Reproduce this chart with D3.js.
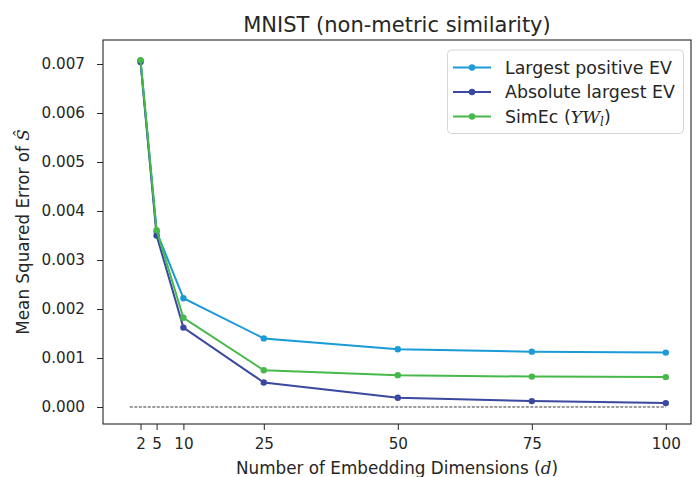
<!DOCTYPE html>
<html>
<head>
<meta charset="utf-8">
<script src="https://cdn.jsdelivr.net/npm/d3@7"></script>
<style>
  body { margin: 0; background: #fff; }
  svg { font-family: "DejaVu Sans", sans-serif; }
</style>
</head>
<body>
<div id="chart"></div>
<script>
// data
const dims = [2, 5, 10, 25, 50, 75, 100];
const largestPositive = [0.00707, 0.00358, 0.00222, 0.00140, 0.00118, 0.00113, 0.00111];
const absoluteLargest = [0.00704, 0.00350, 0.00162, 0.00050, 0.00019, 0.00012, 0.00008];
const simEc = [0.00708, 0.00361, 0.00182, 0.00075, 0.00065, 0.00062, 0.00061];
const yTicks = [0, 0.001, 0.002, 0.003, 0.004, 0.005, 0.006, 0.007];

const series = [
  {name: "Largest positive EV", values: largestPositive, color: "#1a9bd7"},
  {name: "Absolute largest EV", values: absoluteLargest, color: "#3a48a0"},
  {name: "SimEc", values: simEc, color: "#46b94a"}
];

const width = 700, height = 477;
const margin = {top: 40, right: 9, bottom: 53, left: 103};
const tickFont = 15.2, labelFont = 16.8;

const svg = d3.select("#chart").append("svg")
  .attr("width", width)
  .attr("height", height);

const x = d3.scaleLinear().domain([-5, 104.7]).range([margin.left, width - margin.right]);
const y = d3.scaleLinear().domain([-0.000347, 0.00749]).range([height - margin.bottom, margin.top]);

// Axes
const xAxis = svg.append("g")
  .attr("transform", `translate(0,${height - margin.bottom})`)
  .call(d3.axisBottom(x).tickValues(dims).tickSize(6).tickPadding(8).tickFormat(d3.format("d")));
const yAxis = svg.append("g")
  .attr("transform", `translate(${margin.left},0)`)
  .call(d3.axisLeft(y).tickValues(yTicks).tickSize(6).tickPadding(12).tickFormat(d3.format(".3f")));
[xAxis, yAxis].forEach(g => {
  g.select(".domain").remove();
  g.selectAll("text").attr("font-size", tickFont).attr("fill", "#262626").attr("font-family", "DejaVu Sans");
  g.selectAll("line").attr("stroke", "#262626").attr("stroke-width", 1);
});

// frame
svg.append("rect")
  .attr("x", margin.left).attr("y", margin.top)
  .attr("width", width - margin.left - margin.right)
  .attr("height", height - margin.top - margin.bottom)
  .attr("fill", "none").attr("stroke", "#262626").attr("stroke-width", 1.1);

// zero reference line
svg.append("line")
  .attr("x1", x(0)).attr("x2", x(100))
  .attr("y1", y(0)).attr("y2", y(0))
  .attr("stroke", "#222").attr("stroke-width", 0.9).attr("stroke-dasharray", "3,1.5");

// lines
const line = d3.line().x((d, i) => x(dims[i])).y(d => y(d));
series.forEach(s => {
  svg.append("path").datum(s.values)
    .attr("fill", "none").attr("stroke", s.color).attr("stroke-width", 2)
    .attr("d", line);
  svg.append("g").selectAll("circle").data(s.values).enter().append("circle")
    .attr("cx", (d, i) => x(dims[i])).attr("cy", d => y(d))
    .attr("r", 3.2).attr("fill", s.color);
});

// title
svg.append("text")
  .attr("x", (margin.left + width - margin.right) / 2).attr("y", 32)
  .attr("text-anchor", "middle").attr("font-size", 21).attr("fill", "#262626")
  .text("MNIST (non-metric similarity)");

// x label
const xl = svg.append("text")
  .attr("x", (margin.left + width - margin.right) / 2).attr("y", 474)
  .attr("text-anchor", "middle").attr("font-size", labelFont).attr("fill", "#262626");
xl.append("tspan").text("Number of Embedding Dimensions (");
xl.append("tspan").attr("font-family", "DejaVu Serif").attr("font-style", "italic").text("d");
xl.append("tspan").text(")");

// y label
const yl = svg.append("text")
  .attr("transform", `translate(29,${(margin.top + height - margin.bottom) / 2}) rotate(-90)`)
  .attr("text-anchor", "middle").attr("font-size", labelFont).attr("fill", "#262626");
yl.append("tspan").text("Mean Squared Error of ");
yl.append("tspan").attr("font-family", "DejaVu Serif").attr("font-style", "italic").text("Ŝ");

// legend
const lg = svg.append("g").attr("transform", "translate(447.5,50)");
lg.append("rect").attr("width", 236).attr("height", 83.5).attr("rx", 4)
  .attr("fill", "#fff").attr("stroke", "#d6d6d6");
series.forEach((s, i) => {
  const ly = 17.5 + i * 24.5;
  lg.append("line").attr("x1", 5.5).attr("x2", 43.5).attr("y1", ly).attr("y2", ly)
    .attr("stroke", s.color).attr("stroke-width", 2);
  lg.append("circle").attr("cx", 24.5).attr("cy", ly).attr("r", 3.2).attr("fill", s.color);
  const t = lg.append("text").attr("x", 57.5).attr("y", ly + 6)
    .attr("font-size", 17.4).attr("fill", "#262626");
  if (s.name === "SimEc") {
    t.append("tspan").text("SimEc (");
    t.append("tspan").attr("font-family", "DejaVu Serif").attr("font-style", "italic").text("YW");
    t.append("tspan").attr("font-family", "DejaVu Serif").attr("font-style", "italic")
      .attr("font-size", 12).attr("dy", 3.5).text("l");
    t.append("tspan").attr("dy", -3.5).text(")");
  } else {
    t.text(s.name);
  }
});
</script>
</body>
</html>
